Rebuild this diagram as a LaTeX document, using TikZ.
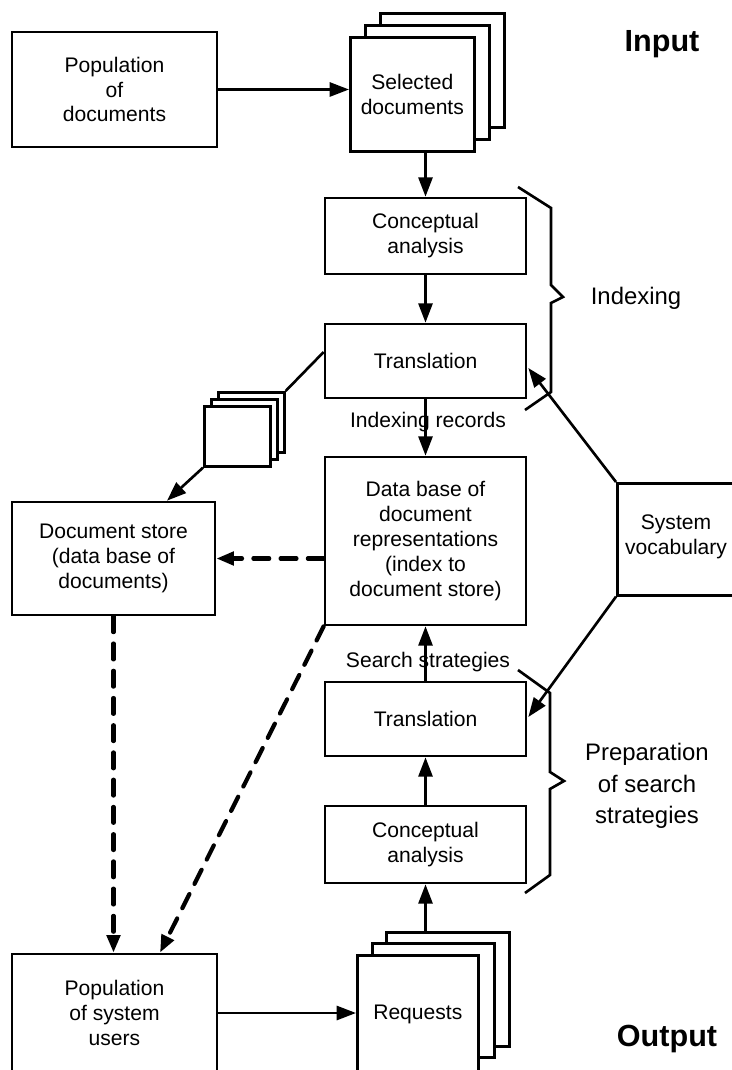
\documentclass[tikz,border=0pt]{standalone}
\usepackage{fontspec}
\setmainfont{Liberation Sans}
\usetikzlibrary{arrows.meta,calc}
\begin{document}
\begin{tikzpicture}[x=0.02cm,y=-0.02cm,
  txt/.style={font=\fontsize{12}{14.2}\selectfont, align=center},
  box/.style 2 args={draw, line width=1.5pt, fill=white, txt, inner sep=0pt,
    minimum width=#1*0.02cm, minimum height=#2*0.02cm},
  sheet/.style 2 args={box={#1}{#2}, anchor=north west},
  flow/.style={line width=1.5pt, -{Triangle[length=11pt,width=8pt]}},
  link/.style={line width=1.5pt},
  lookup/.style={line width=2.4pt, line cap=round, dash pattern=on 9pt off 6.5pt,
    -{Triangle[length=10pt,width=7.5pt]}},
  brace/.style={line width=1.5pt, line join=miter},
  side/.style={font=\fontsize{13.6}{18}\selectfont, align=center},
  heading/.style={font=\fontsize{17.4}{20}\selectfont\bfseries}]

\useasboundingbox (0,0) rectangle (731,1070);

% headings
\node[heading] (input) at (662,44) {Input};
\node[heading] (output) at (667,1039) {Output};

% input side
\node[box={205}{115}] (popdoc) at (114.5,89.5) {Population\\of\\documents};
\node[sheet={124}{114}] (selback) at (379,12) {};
\node[sheet={124}{114}] (selmid) at (364,24) {};
\node[sheet={124}{114}] (sel) at (349,36) {Selected\\documents};

% indexing column
\node[box={201}{76}] (conc1) at (425.5,236) {Conceptual\\analysis};
\node[box={201}{74}] (tr1) at (425.5,361) {Translation};
\node[box={201}{168}] (db) at (425.5,541)
  {Data base of\\document\\representations\\(index to\\document store)};

% indexing records pages
\node[sheet={66}{60}] (pgback) at (217,391) {};
\node[sheet={66}{60}] (pgmid) at (210,398) {};
\node[sheet={66}{60}] (pg) at (203,405) {};

% stores and users
\node[box={203}{113}] (ds) at (113.5,558.5) {Document store\\(data base of\\documents)};
\node[box={205}{118}] (pu) at (114.5,1013) {Population\\of system\\users};

% system vocabulary
\node[draw, line width=1.5pt, inner sep=0pt, anchor=north west,
  minimum width=130*0.02cm, minimum height=112*0.02cm] (sv) at (616,482) {};
\node[txt] (svtext) at (676,537) {System\\vocabulary};

% search column
\node[box={201}{74}] (tr2) at (425.5,719) {Translation};
\node[box={201}{77}] (conc2) at (425.5,844.5) {Conceptual\\analysis};
\node[sheet={123}{114}] (reqback) at (385,931) {};
\node[sheet={122}{114}] (reqmid) at (371,942) {};
\node[sheet={121}{118}] (req) at (356,954) {Requests};

% solid connectors
\draw[flow] (popdoc.east) -- (popdoc.east -| sel.west);
\draw[flow] (sel.south -| conc1.north) -- (conc1.north);
\draw[flow] (conc1.south) -- (tr1.north);
\draw[flow] (tr1.south) -- (db.north);
\node[txt] (lblidx) at (428,422) {Indexing records};
\draw[link] ($(tr1.west)+(0,-9)$) -- (pgback.north east);
\draw[flow] (pg.south west) -- ($(ds.north)+(53.5,0)$);
\draw[flow] (sv.north west) -- ($(tr1.east)+(1,7)$);
\draw[flow] (sv.south west) -- ($(tr2.east)+(1,-2)$);
\draw[flow] (tr2.north) -- (db.south);
\node[txt] (lblsearch) at (428,662) {Search strategies};
\draw[flow] (conc2.north) -- (tr2.south);
\draw[flow] (reqback.north -| conc2.south) -- (conc2.south);
\draw[flow] (pu.east) -- (pu.east -| req.west);

% dashed look-up paths
\draw[lookup] (ds.east -| db.west) -- (ds.east);
\draw[lookup] (ds.south) -- (ds.south |- pu.north);
\draw[lookup] (db.south west) -- ($(pu.north)+(45.5,0)$);

% braces
\draw[brace] (518,187) -- (551,208) -- (551,285) -- (563,297) -- (551,303)
  -- (551,392) -- (525,410);
\node[side] (indexing) at (636,298) {Indexing};
\draw[brace] (518,670) -- (550,693) -- (550,772) -- (564,781) -- (550,789)
  -- (550,875) -- (525,893);
\node[side] (prep) at (647,786) {Preparation\\of search\\strategies};
\end{tikzpicture}
\end{document}
